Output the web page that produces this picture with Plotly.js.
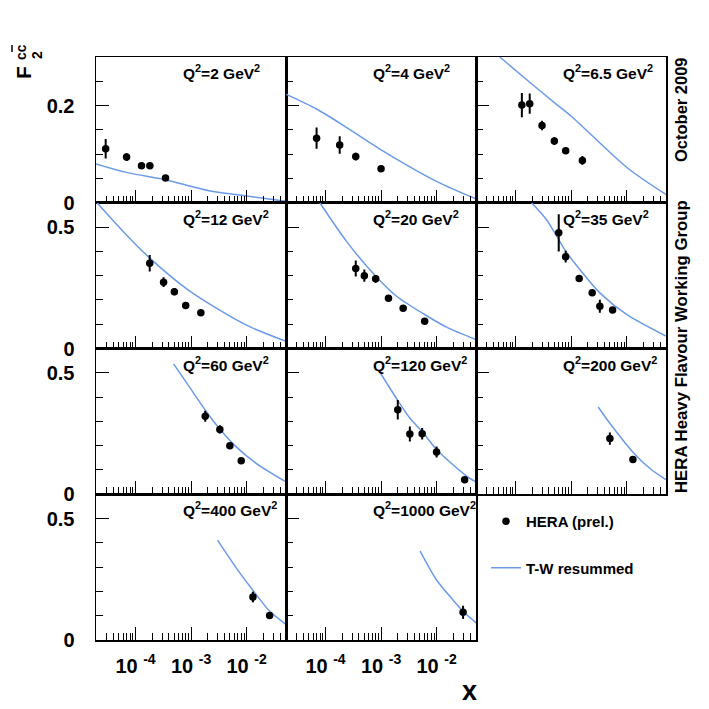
<!DOCTYPE html>
<html><head><meta charset="utf-8">
<script src="https://cdn.plot.ly/plotly-3.0.1.min.js"></script>
<style>html,body{margin:0;padding:0;background:#fff}</style>
</head><body><div id="chart" style="width:709px;height:709px"></div>
<script>
// ---------- DATA ----------
const q2Values = ['2', '4', '6.5', '12', '20', '35', '60', '120', '200', '400', '1000'];

// HERA (prel.) data points: x, F2cc, error
const hera_x_2 = [2.9e-5, 6.9e-5, 1.28e-4, 1.81e-4, 3.47e-4];
const hera_f_2 = [0.111, 0.094, 0.076, 0.076, 0.051];
const hera_e_2 = [0.020, 0.008, 0.006, 0.006, 0.004];

const hera_x_4 = [6.9e-5, 1.8e-4, 3.5e-4, 1.0e-3];
const hera_f_4 = [0.133, 0.119, 0.095, 0.070];
const hera_e_4 = [0.022, 0.018, 0.008, 0.006];

const hera_x_6p5 = [1.3e-4, 1.8e-4, 3.0e-4, 5.0e-4, 8.0e-4, 1.6e-3];
const hera_f_6p5 = [0.201, 0.204, 0.159, 0.127, 0.107, 0.087];
const hera_e_6p5 = [0.025, 0.021, 0.010, 0.008, 0.006, 0.009];

const hera_x_12 = [1.8e-4, 3.2e-4, 5.0e-4, 8.0e-4, 1.5e-3];
const hera_f_12 = [0.351, 0.273, 0.234, 0.177, 0.147];
const hera_e_12 = [0.034, 0.020, 0.015, 0.008, 0.008];

const hera_x_20 = [3.5e-4, 5.0e-4, 8.0e-4, 1.36e-3, 2.5e-3, 6.1e-3];
const hera_f_20 = [0.329, 0.300, 0.287, 0.207, 0.166, 0.112];
const hera_e_20 = [0.033, 0.025, 0.016, 0.008, 0.008, 0.008];

const hera_x_35 = [6.0e-4, 8.0e-4, 1.4e-3, 2.4e-3, 3.3e-3, 5.6e-3];
const hera_f_35 = [0.476, 0.378, 0.288, 0.229, 0.174, 0.159];
const hera_e_35 = [0.077, 0.024, 0.012, 0.012, 0.027, 0.010];

const hera_x_60 = [1.8e-3, 3.3e-3, 5.0e-3, 8.0e-3];
const hera_f_60 = [0.321, 0.267, 0.200, 0.138];
const hera_e_60 = [0.023, 0.017, 0.008, 0.008];

const hera_x_120 = [2.0e-3, 3.3e-3, 5.5e-3, 1.0e-2, 3.2e-2];
const hera_f_120 = [0.348, 0.248, 0.249, 0.174, 0.060];
const hera_e_120 = [0.040, 0.031, 0.024, 0.023, 0.010];

const hera_x_200 = [5.0e-3, 1.3e-2];
const hera_f_200 = [0.229, 0.143];
const hera_e_200 = [0.025, 0.010];

const hera_x_400 = [1.3e-2, 2.6e-2];
const hera_f_400 = [0.177, 0.101];
const hera_e_400 = [0.022, 0.010];

const hera_x_1000 = [3.0e-2];
const hera_f_1000 = [0.114];
const hera_e_1000 = [0.027];

// T-W resummed curves
const tw_x_2 = [1.93e-5, 6.9e-5, 3.6e-4, 9.9e-4, 2.5e-3, 1.0e-2, 5.1e-2];
const tw_f_2 = [0.080, 0.0625, 0.047, 0.034, 0.023, 0.014, 0.003];

const tw_x_4 = [1.97e-5, 6.9e-5, 1.8e-4, 1.0e-3, 1.0e-2, 5.1e-2];
const tw_f_4 = [0.223, 0.193, 0.164, 0.109, 0.044, 0.008];

const tw_x_6p5 = [5.2e-5, 1.8e-4, 5.0e-4, 1.03e-3, 1.04e-2, 5.2e-2];
const tw_f_6p5 = [0.300, 0.248, 0.206, 0.177, 0.0715, 0.0165];

const tw_x_12 = [2.03e-5, 5.98e-5, 1.79e-4, 9.5e-4, 1.0e-2, 5.1e-2];
const tw_f_12 = [0.600, 0.482, 0.373, 0.236, 0.096, 0.030];

const tw_x_20 = [7.9e-5, 2.39e-4, 8.05e-4, 1.9e-3, 6.08e-3, 1.51e-2, 5.1e-2];
const tw_f_20 = [0.600, 0.441, 0.297, 0.215, 0.140, 0.088, 0.037];

const tw_x_35 = [1.94e-4, 3.62e-4, 8.05e-4, 1.44e-3, 3.3e-3, 1.0e-2, 5.1e-2];
const tw_f_35 = [0.600, 0.530, 0.400, 0.325, 0.229, 0.140, 0.051];

const tw_x_60 = [4.84e-4, 9.4e-4, 1.82e-3, 3.26e-3, 6.6e-3, 1.51e-2, 5.1e-2];
const tw_f_60 = [0.537, 0.441, 0.345, 0.270, 0.194, 0.126, 0.051];

const tw_x_120 = [9.9e-4, 2.0e-3, 3.26e-3, 5.6e-3, 1.03e-2, 3.33e-2, 5.1e-2];
const tw_f_120 = [0.496, 0.386, 0.315, 0.256, 0.181, 0.078, 0.051];

const tw_x_200 = [3.08e-3, 5.07e-3, 1.34e-2, 2.63e-2, 5.1e-2];
const tw_f_200 = [0.359, 0.290, 0.170, 0.106, 0.060];

const tw_x_400 = [3.0e-3, 6.6e-3, 1.34e-2, 2.6e-2, 5.1e-2];
const tw_f_400 = [0.411, 0.295, 0.201, 0.119, 0.064];

const tw_x_1000 = [5.06e-3, 1.0e-2, 1.99e-2, 3.06e-2, 5.25e-2];
const tw_f_1000 = [0.366, 0.247, 0.164, 0.116, 0.069];

const xTickVals = [1e-4, 1e-3, 1e-2];
const xTickText = ['10 <sup>-4</sup>', '10 <sup>-3</sup>', '10 <sup>-2</sup>'];
const yTickValsTop = [0, 0.2];
const yTickTextTop = ['0', '0.2'];
const yTickVals = [0, 0.5];
const yTickText = ['0', '0.5'];

// ---------- BUILD ----------
const panels = [
  {q: q2Values[0], hx: hera_x_2, hf: hera_f_2, he: hera_e_2, tx: tw_x_2, tf: tw_f_2},
  {q: q2Values[1], hx: hera_x_4, hf: hera_f_4, he: hera_e_4, tx: tw_x_4, tf: tw_f_4},
  {q: q2Values[2], hx: hera_x_6p5, hf: hera_f_6p5, he: hera_e_6p5, tx: tw_x_6p5, tf: tw_f_6p5},
  {q: q2Values[3], hx: hera_x_12, hf: hera_f_12, he: hera_e_12, tx: tw_x_12, tf: tw_f_12},
  {q: q2Values[4], hx: hera_x_20, hf: hera_f_20, he: hera_e_20, tx: tw_x_20, tf: tw_f_20},
  {q: q2Values[5], hx: hera_x_35, hf: hera_f_35, he: hera_e_35, tx: tw_x_35, tf: tw_f_35},
  {q: q2Values[6], hx: hera_x_60, hf: hera_f_60, he: hera_e_60, tx: tw_x_60, tf: tw_f_60},
  {q: q2Values[7], hx: hera_x_120, hf: hera_f_120, he: hera_e_120, tx: tw_x_120, tf: tw_f_120},
  {q: q2Values[8], hx: hera_x_200, hf: hera_f_200, he: hera_e_200, tx: tw_x_200, tf: tw_f_200},
  {q: q2Values[9], hx: hera_x_400, hf: hera_f_400, he: hera_e_400, tx: tw_x_400, tf: tw_f_400},
  {q: q2Values[10], hx: hera_x_1000, hf: hera_f_1000, he: hera_e_1000, tx: tw_x_1000, tf: tw_f_1000}
];

const FONT = 'Liberation Sans, Arial, Helvetica, sans-serif';
const LINE_COLOR = '#6b9be8';
const W = 709, H = 709;
const M = {l: 96, r: 43, t: 57, b: 69};
const PW = W - M.l - M.r, PH = H - M.t - M.b;
const px2x = p => (p - M.l) / PW;
const py2y = p => (H - M.b - p) / PH;

const xMinor = [];
[-5, -4, -3, -2].forEach(e => { for (let k = 2; k <= 9; k++) xMinor.push(k * Math.pow(10, e)); });
const yMinorTop = [0.05, 0.1, 0.15, 0.25];
const yMinor = [0.1, 0.2, 0.3, 0.4];

const traces = [];
const layout = {
  width: W, height: H,
  margin: M,
  paper_bgcolor: 'white', plot_bgcolor: 'white',
  showlegend: true,
  font: {family: FONT, color: 'black'},
  legend: {
    x: px2x(486), y: py2y(505), xanchor: 'left', yanchor: 'top',
    font: {family: FONT, size: 15, weight: 'bold', color: 'black'},
    bgcolor: 'rgba(0,0,0,0)', traceorder: 'grouped', tracegroupgap: 24
  },
  annotations: [],
  shapes: []
};

panels.forEach((p, i) => {
  const row = Math.floor(i / 3), col = i % 3;
  const n = i === 0 ? '' : String(i + 1);
  const top = row === 0;
  layout['xaxis' + n] = {
    type: 'log', range: [-4.712, -1.29],
    domain: [col / 3, (col + 1) / 3], anchor: 'y' + n,
    showline: true, mirror: true, linecolor: 'black', linewidth: 1.5,
    showgrid: false, zeroline: false,
    ticks: 'inside', ticklen: 13, tickwidth: 1, tickcolor: 'black',
    tickmode: 'array', tickvals: xTickVals, ticktext: xTickText,
    showticklabels: row === 3,
    ticklabelstandoff: 7,
    tickfont: {family: FONT, size: 20, weight: 'bold', color: 'black'},
    minor: {tickmode: 'array', tickvals: xMinor, ticks: 'inside', ticklen: 7, tickwidth: 1, tickcolor: 'black', showgrid: false}
  };
  layout['yaxis' + n] = {
    range: top ? [0, 0.3] : [0, 0.6],
    domain: [1 - (row + 1) / 4, 1 - row / 4], anchor: 'x' + n,
    showline: true, mirror: true, linecolor: 'black', linewidth: 1.5,
    showgrid: false, zeroline: false,
    ticks: 'inside', ticklen: 13, tickwidth: 1, tickcolor: 'black',
    tickmode: 'array', tickvals: top ? yTickValsTop : yTickVals, ticktext: top ? yTickTextTop : yTickText,
    showticklabels: col === 0,
    ticklabelstandoff: 16,
    tickfont: {family: FONT, size: 20, weight: 'bold', color: 'black'},
    minor: {tickmode: 'array', tickvals: top ? yMinorTop : yMinor, ticks: 'inside', ticklen: 7, tickwidth: 1, tickcolor: 'black', showgrid: false}
  };
  traces.push({
    type: 'scatter', mode: 'lines', x: p.tx, y: p.tf,
    xaxis: 'x' + n, yaxis: 'y' + n,
    line: {color: LINE_COLOR, width: 1.5, shape: 'spline', smoothing: 0.8},
    name: 'T-W resummed', legendgroup: 'tw', legendrank: 2,
    showlegend: i === 0, hoverinfo: 'skip'
  });
  const yTopPx = M.t + row * (PH / 4);
  const xLeftPx = M.l + col * (PW / 3);
  layout.annotations.push({
    xref: 'paper', yref: 'paper', x: px2x(xLeftPx + 85), y: py2y(yTopPx + 15),
    xanchor: 'left', yanchor: 'middle', showarrow: false,
    text: 'Q<sup>2</sup>=' + p.q + ' GeV<sup>2</sup>',
    font: {family: FONT, size: 15.5, weight: 'bold', color: 'black'}
  });
});
panels.forEach((p, i) => {
  const n = i === 0 ? '' : String(i + 1);
  traces.push({
    type: 'scatter', mode: 'markers', x: p.hx, y: p.hf,
    xaxis: 'x' + n, yaxis: 'y' + n,
    marker: {color: 'black', size: 7.5},
    error_y: {type: 'data', array: p.he, visible: true, color: 'black', thickness: 2, width: 0},
    name: 'HERA (prel.)', legendgroup: 'hera', legendrank: 1,
    showlegend: i === 0, hoverinfo: 'skip'
  });
});

// axis titles and side texts
layout.annotations.push(
  {xref: 'paper', yref: 'paper', x: px2x(469), y: py2y(691), showarrow: false, xanchor: 'center', yanchor: 'middle',
   text: 'x', font: {family: FONT, size: 27, weight: 'bold', color: 'black'}},
  {xref: 'paper', yref: 'paper', x: px2x(23), y: py2y(73), showarrow: false, xanchor: 'center', yanchor: 'middle',
   text: 'F', textangle: -90, font: {family: FONT, size: 21, weight: 'bold', color: 'black'}},
  {xref: 'paper', yref: 'paper', x: px2x(21), y: py2y(52), showarrow: false, xanchor: 'center', yanchor: 'middle',
   text: 'cc', textangle: -90, font: {family: FONT, size: 14, weight: 'bold', color: 'black'}},
  {xref: 'paper', yref: 'paper', x: px2x(37), y: py2y(55), showarrow: false, xanchor: 'center', yanchor: 'middle',
   text: '2', textangle: -90, font: {family: FONT, size: 14, weight: 'bold', color: 'black'}},
  {xref: 'paper', yref: 'paper', x: px2x(681), y: py2y(110), showarrow: false, xanchor: 'center', yanchor: 'middle',
   text: 'October 2009', textangle: -90, font: {family: FONT, size: 16.5, weight: 'bold', color: 'black'}},
  {xref: 'paper', yref: 'paper', x: px2x(681), y: py2y(347), showarrow: false, xanchor: 'center', yanchor: 'middle',
   text: 'HERA Heavy Flavour Working Group', textangle: -90, font: {family: FONT, size: 16.8, weight: 'bold', color: 'black'}}
);
layout.shapes.push({type: 'line', xref: 'paper', yref: 'paper', x0: px2x(12), x1: px2x(12), y0: py2y(45), y1: py2y(52),
  line: {color: 'black', width: 1.5}});

Plotly.newPlot('chart', traces, layout, {staticPlot: true, displayModeBar: false});
</script>
</body></html>
